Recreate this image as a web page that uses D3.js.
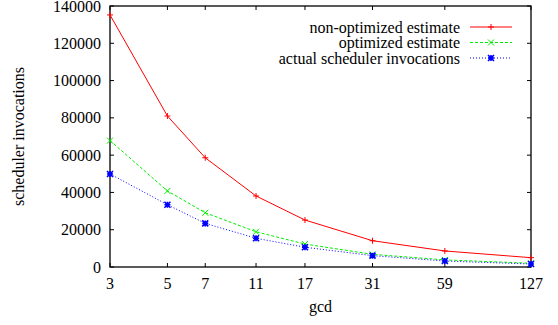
<!DOCTYPE html>
<html><head><meta charset="utf-8">
<script src="https://cdn.jsdelivr.net/npm/d3@7"></script>
<style>body{margin:0;background:#fff}svg{display:block}text{font-family:"Liberation Serif","Times New Roman",serif;fill:#000}</style>
</head><body><svg id="c" width="558" height="325"></svg>
<script>
const gcdValues = [3, 5, 7, 11, 17, 31, 59, 127];
const nonOptimized = [135200, 81000, 58600, 38100, 25200, 14100, 8600, 5000];
const optimized = [67800, 40800, 29100, 18900, 12300, 6800, 3800, 2000];
const actual = [49900, 33400, 23400, 15400, 10600, 6100, 3200, 1600];
const yTicks = [0, 20000, 40000, 60000, 80000, 100000, 120000, 140000];
const seriesNames = ["non-optimized estimate", "optimized estimate", "actual scheduler invocations"];

const svg = d3.select("#c");
const m = {l:110, r:531, t:6, b:267};
const x = d3.scaleLog().domain([3,127]).range([m.l, m.r]);
const y = d3.scaleLinear().domain([0,140000]).range([m.b, m.t]);
const fs = 16;

const series = [
  {name:seriesNames[0], vals:nonOptimized, color:"#ff0000", dash:null, pt:"plus"},
  {name:seriesNames[1], vals:optimized, color:"#00ee00", dash:"3,2", pt:"cross"},
  {name:seriesNames[2], vals:actual, color:"#0000ff", dash:"1,2", pt:"star"}
];

const tl = 4;
const g = svg.append("g");
yTicks.forEach(v=>{
  g.append("line").attr("x1",m.l).attr("x2",m.l+tl).attr("y1",y(v)).attr("y2",y(v)).attr("stroke","#000");
  g.append("line").attr("x1",m.r).attr("x2",m.r-tl).attr("y1",y(v)).attr("y2",y(v)).attr("stroke","#000");
  g.append("text").attr("x",m.l-9).attr("y",y(v)+5.5).attr("text-anchor","end").attr("font-size",fs).text(v);
});
gcdValues.forEach(v=>{
  g.append("line").attr("x1",x(v)).attr("x2",x(v)).attr("y1",m.b).attr("y2",m.b-tl).attr("stroke","#000");
  g.append("line").attr("x1",x(v)).attr("x2",x(v)).attr("y1",m.t).attr("y2",m.t+tl).attr("stroke","#000");
  g.append("text").attr("x",x(v)).attr("y",m.b+22).attr("text-anchor","middle").attr("font-size",fs).text(v);
});
svg.append("rect").attr("x",m.l).attr("y",m.t).attr("width",m.r-m.l).attr("height",m.b-m.t)
  .attr("fill","none").attr("stroke","#000").attr("stroke-width",1.3);

svg.append("text").attr("x",(m.l+m.r)/2).attr("y",312).attr("text-anchor","middle").attr("font-size",fs).text("gcd");
svg.append("text").attr("transform",`translate(24,${(m.t+m.b)/2}) rotate(-90)`).attr("text-anchor","middle").attr("font-size",fs).text("scheduler invocations");

function marker(sel, type, cx, cy, color){
  const s=3;
  const p = d3.path();
  if(type==="plus"||type==="star"){p.moveTo(cx-s,cy);p.lineTo(cx+s,cy);p.moveTo(cx,cy-s);p.lineTo(cx,cy+s);}
  if(type==="cross"||type==="star"){p.moveTo(cx-s,cy-s);p.lineTo(cx+s,cy+s);p.moveTo(cx-s,cy+s);p.lineTo(cx+s,cy-s);}
  sel.append("path").attr("d",p.toString()).attr("stroke",color).attr("stroke-width",type==="star"?1.6:1).attr("fill","none");
}

const line = d3.line().x((d,i)=>x(gcdValues[i])).y(d=>y(d));
series.forEach((s,k)=>{
  svg.append("path").datum(s.vals).attr("d",line).attr("fill","none").attr("stroke",s.color)
    .attr("stroke-width",1).attr("stroke-dasharray",s.dash);
  s.vals.forEach((v,i)=>marker(svg,s.pt,x(gcdValues[i]),y(v),s.color));
  const ly = 27 + k*15.5;
  svg.append("text").attr("x",460).attr("y",ly+5.5).attr("text-anchor","end").attr("font-size",fs).text(s.name);
  svg.append("line").attr("x1",470).attr("x2",512).attr("y1",ly).attr("y2",ly).attr("stroke",s.color).attr("stroke-dasharray",s.dash);
  marker(svg,s.pt,491,ly,s.color);
});
</script></body></html>
